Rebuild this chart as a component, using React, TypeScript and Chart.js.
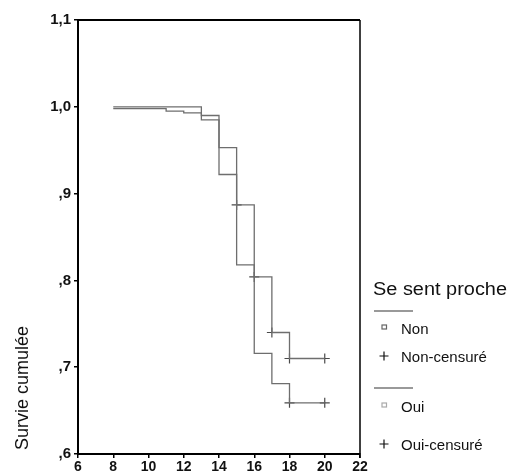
import React, { useEffect, useRef } from "react";
import { Chart, registerables } from "chart.js";

Chart.register(...registerables);

// Kaplan–Meier survival by group ("Se sent proche")
const X_TICKS = [6, 8, 10, 12, 14, 16, 18, 20, 22];
const Y_TICK_VALUES = [0.6, 0.7, 0.8, 0.9, 1.0, 1.1];
const Y_TICK_LABELS = [",6", ",7", ",8", ",9", "1,0", "1,1"];

const NON_TIMES = [8, 11, 12, 13, 14, 15, 16, 17, 18, 20];
const NON_SURVIVAL = [0.998, 0.995, 0.993, 0.985, 0.953, 0.887, 0.804, 0.74, 0.71, 0.71];
const NON_CENSORED_TIMES = [15, 16, 17, 18, 20];

const OUI_TIMES = [8, 13, 14, 15, 16, 17, 18, 20];
const OUI_SURVIVAL = [1.0, 0.99, 0.922, 0.818, 0.716, 0.681, 0.659, 0.659];
const OUI_CENSORED_TIMES = [18, 20];

const LEGEND_TITLE = "Se sent proche";
const LEGEND_LABELS = ["Non", "Non-censuré", "Oui", "Oui-censuré"];
const Y_TITLE = "Survie cumulée";

const FONT = "'Liberation Sans', Arial, sans-serif";
const LINE_COLOR = "#6e6e6e";
const MARK_COLOR = "#4a4a4a";

// survival value in effect at time t for a step curve
function survivalAt(times: number[], values: number[], t: number): number {
  let v = values[0];
  for (let i = 0; i < times.length; i++) if (times[i] <= t) v = values[i];
  return v;
}

function textFit(
  ctx: CanvasRenderingContext2D,
  text: string,
  x: number,
  y: number,
  font: string,
  width?: number
) {
  ctx.save();
  ctx.font = font;
  ctx.textBaseline = "alphabetic";
  ctx.textAlign = "left";
  ctx.translate(x, y);
  if (width) {
    const w = ctx.measureText(text).width;
    ctx.scale(width / w, 1);
  }
  ctx.fillText(text, 0, 0);
  ctx.restore();
}

const decorPlugin = {
  id: "decor",
  afterDraw(chart: any) {
    const { ctx, chartArea } = chart;
    const { left, right, top, bottom } = chartArea;
    ctx.save();
    // frame: top and right sides
    ctx.strokeStyle = "#000";
    ctx.lineWidth = 2;
    ctx.beginPath();
    ctx.moveTo(left - 1, top);
    ctx.lineTo(right, top);
    ctx.stroke();
    ctx.lineWidth = 1.5;
    ctx.beginPath();
    ctx.moveTo(right, top);
    ctx.lineTo(right, bottom + 4);
    ctx.stroke();

    // y axis title
    ctx.fillStyle = "#111";
    ctx.save();
    ctx.translate(28, 388);
    ctx.rotate(-Math.PI / 2);
    ctx.font = `18px ${FONT}`;
    ctx.textAlign = "center";
    ctx.textBaseline = "alphabetic";
    ctx.fillText(Y_TITLE, 0, 0);
    ctx.restore();

    // legend
    const lx = 373;
    ctx.fillStyle = "#111";
    textFit(ctx, LEGEND_TITLE, lx, 295, `18px ${FONT}`, 134);

    ctx.strokeStyle = "#777";
    ctx.lineWidth = 1.5;
    [311, 388].forEach((y) => {
      ctx.beginPath();
      ctx.moveTo(lx + 1, y);
      ctx.lineTo(lx + 40, y);
      ctx.stroke();
    });

    const rows = [
      { y: 334, kind: "square", color: "#666" },
      { y: 362, kind: "cross", color: "#111" },
      { y: 412, kind: "square", color: "#aaa" },
      { y: 450, kind: "cross", color: "#111" },
    ];
    rows.forEach((r, i) => {
      const mx = 384;
      const my = r.y - 6;
      ctx.strokeStyle = r.color;
      ctx.lineWidth = 1.2;
      if (r.kind === "square") {
        ctx.strokeRect(mx - 2, my - 3, 4.5, 4);
      } else {
        ctx.beginPath();
        ctx.moveTo(mx - 4.5, my);
        ctx.lineTo(mx + 4.5, my);
        ctx.moveTo(mx, my - 4.5);
        ctx.lineTo(mx, my + 4.5);
        ctx.stroke();
      }
      ctx.fillStyle = "#111";
      textFit(ctx, LEGEND_LABELS[i], 401, r.y, `15px ${FONT}`);
    });
    ctx.restore();
  },
};

export default function App() {
  const canvasRef = useRef<HTMLCanvasElement | null>(null);

  useEffect(() => {
    const canvas = canvasRef.current;
    if (!canvas) return;

    const line = (times: number[], values: number[]) =>
      times.map((t, i) => ({ x: t, y: values[i] }));
    const marks = (ct: number[], times: number[], values: number[]) =>
      ct.map((t) => ({ x: t, y: survivalAt(times, values, t) }));

    const chart = new Chart(canvas, {
      type: "line",
      data: {
        datasets: [
          {
            label: "Non",
            data: line(NON_TIMES, NON_SURVIVAL),
            stepped: "before",
            borderColor: LINE_COLOR,
            borderWidth: 1.3,
            pointRadius: 0,
            fill: false,
          },
          {
            label: "Oui",
            data: line(OUI_TIMES, OUI_SURVIVAL),
            stepped: "before",
            borderColor: LINE_COLOR,
            borderWidth: 1.3,
            pointRadius: 0,
            fill: false,
          },
          {
            label: "Non-censuré",
            data: marks(NON_CENSORED_TIMES, NON_TIMES, NON_SURVIVAL),
            showLine: false,
            pointStyle: "cross",
            pointRadius: 5,
            borderColor: MARK_COLOR,
            borderWidth: 1.2,
          },
          {
            label: "Oui-censuré",
            data: marks(OUI_CENSORED_TIMES, OUI_TIMES, OUI_SURVIVAL),
            showLine: false,
            pointStyle: "cross",
            pointRadius: 5,
            borderColor: MARK_COLOR,
            borderWidth: 1.2,
          },
        ],
      },
      options: {
        animation: false,
        responsive: false,
        maintainAspectRatio: false,
        devicePixelRatio: 1,
        layout: { padding: { top: 20, right: 151, left: 0, bottom: 0 } },
        plugins: {
          legend: { display: false },
          tooltip: { enabled: false },
        },
        scales: {
          x: {
            type: "linear",
            min: X_TICKS[0],
            max: X_TICKS[X_TICKS.length - 1],
            afterFit: (s: any) => {
              s.height = 22;
            },
            afterBuildTicks: (s: any) => {
              s.ticks = X_TICKS.map((v) => ({ value: v }));
            },
            ticks: {
              autoSkip: false,
              maxRotation: 0,
              padding: 1,
              color: "#111",
              font: { family: FONT, size: 14, weight: "bold" },
              callback: (v: any) => String(v),
            },
            grid: {
              display: true,
              drawOnChartArea: false,
              drawTicks: true,
              tickLength: 4,
              color: "#000",
              lineWidth: 1.5,
            },
            border: { display: true, color: "#000", width: 2 },
          },
          y: {
            type: "linear",
            min: Y_TICK_VALUES[0],
            max: Y_TICK_VALUES[Y_TICK_VALUES.length - 1],
            afterFit: (s: any) => {
              s.width = 78;
            },
            afterBuildTicks: (s: any) => {
              s.ticks = Y_TICK_VALUES.map((v) => ({ value: v }));
            },
            ticks: {
              autoSkip: false,
              padding: 3,
              color: "#111",
              font: { family: FONT, size: 15, weight: "bold" },
              callback: (_v: any, i: number) => Y_TICK_LABELS[i],
            },
            grid: {
              display: true,
              drawOnChartArea: false,
              drawTicks: true,
              tickLength: 4,
              color: "#000",
              lineWidth: 1.5,
            },
            border: { display: true, color: "#000", width: 2 },
          },
        },
      },
      plugins: [decorPlugin],
    });

    return () => chart.destroy();
  }, []);

  return (
    <div style={{ position: "absolute", left: 0, top: 0, width: 511, height: 476, background: "#fff" }}>
      <canvas ref={canvasRef} width={511} height={476} style={{ width: 511, height: 476, display: "block" }} />
    </div>
  );
}
